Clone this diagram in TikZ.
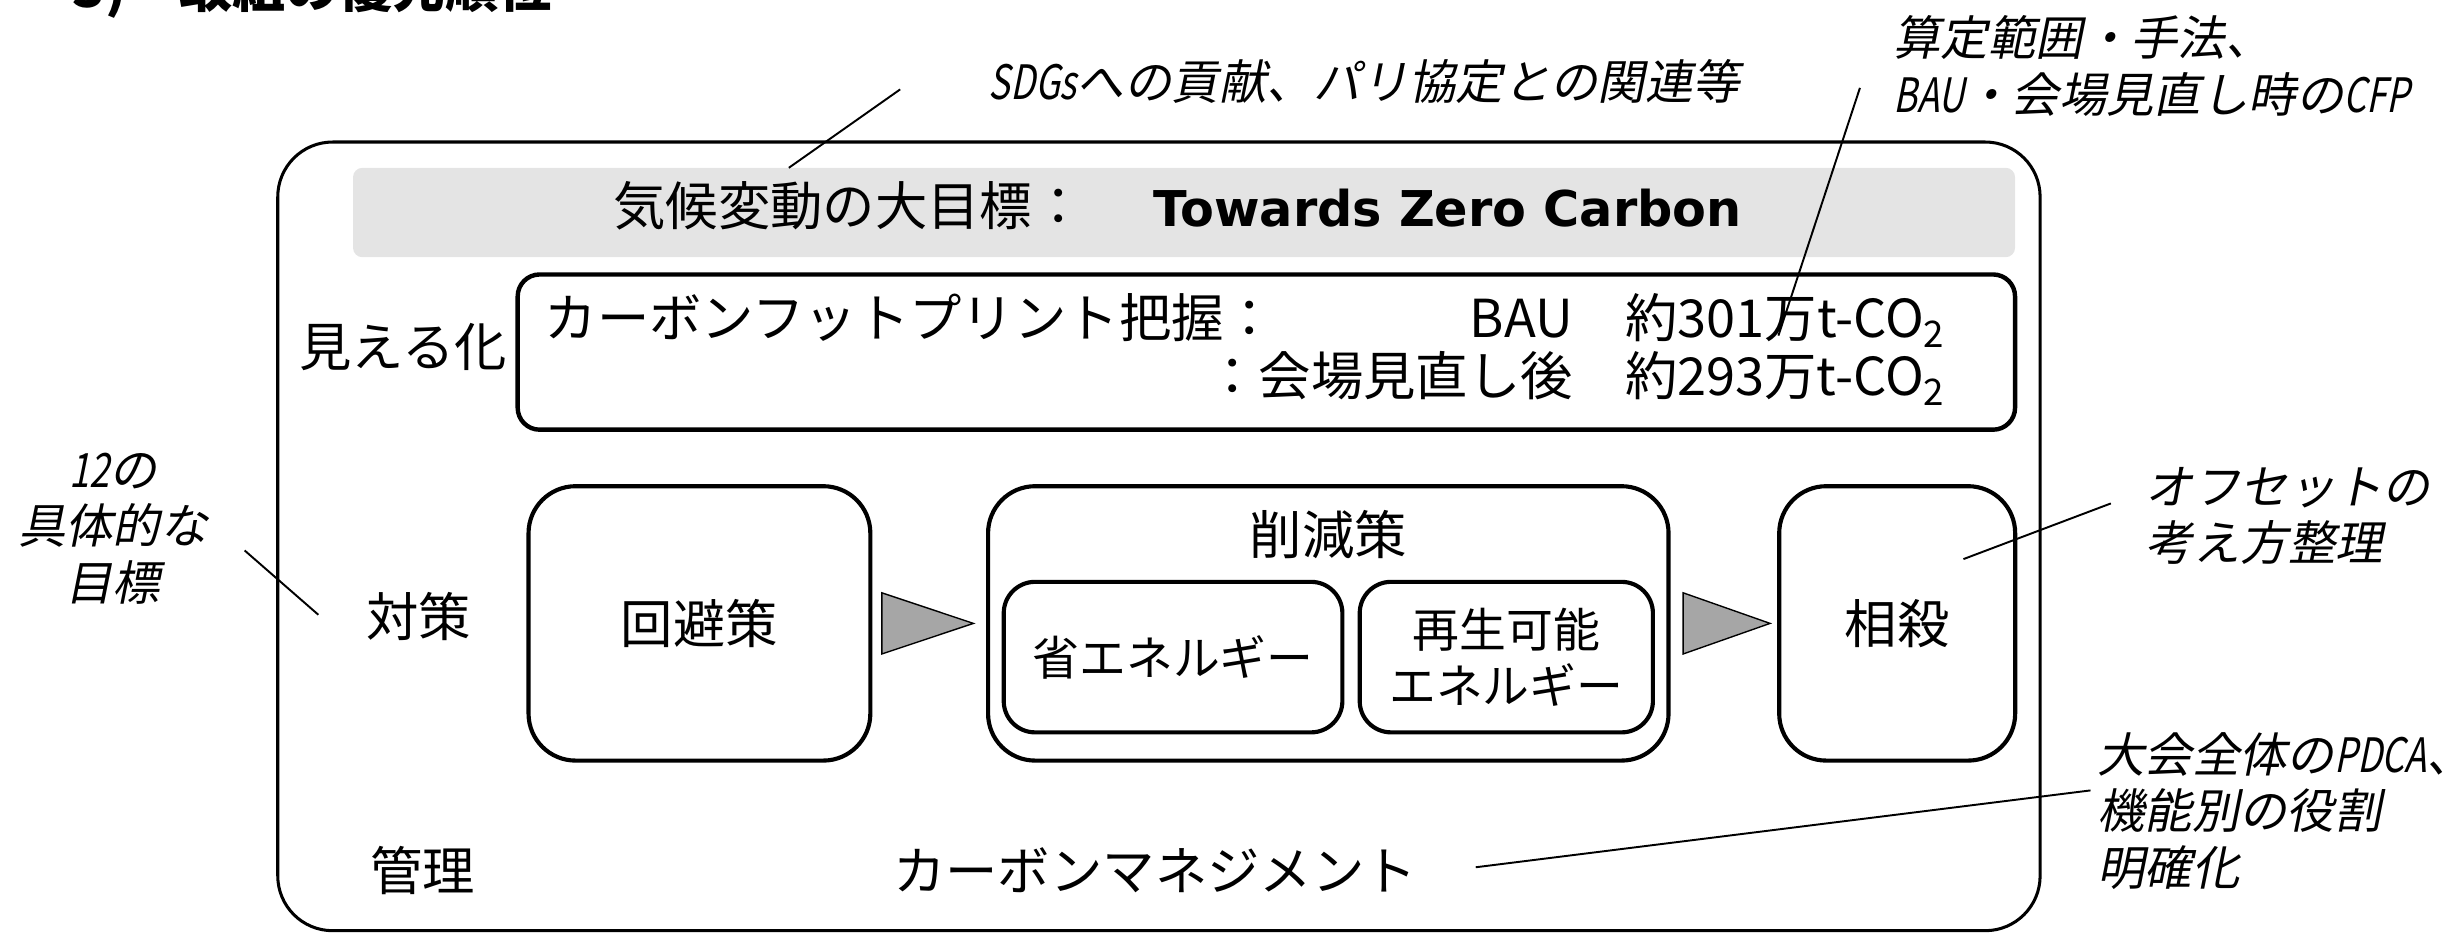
\documentclass[tikz,border=0pt]{standalone}
\usepackage{fontspec}
\setmainfont{Noto Sans CJK JP}
\newfontfamily\notefont[FakeSlant=0.2]{Noto Sans CJK JP}
\newfontfamily\notelatin[FakeSlant=0.2,FakeStretch=0.76]{Noto Sans CJK JP}
\newfontfamily\titlefont{DejaVu Sans}
\usetikzlibrary{calc}
\definecolor{bandgray}{RGB}{228,228,228}
\definecolor{arrowgray}{RGB}{166,166,166}

\begin{document}
\begin{tikzpicture}[x=0.02cm,y=-0.02cm,
		box/.style={draw,line width=1.5pt,rounded corners=0.6cm,inner sep=0pt,minimum height=3.5cm},
		subbox/.style={draw,line width=1.5pt,rounded corners=0.4cm,inner sep=0pt,minimum height=1.92cm,font=\fontsize{17}{20.4}\selectfont,align=center},
		lbl/.style={inner sep=0pt,font=\fontsize{19}{22}\selectfont},
		note/.style={inner sep=0pt,font=\notefont\fontsize{17.2}{20.5}\selectfont},
		lead/.style={line width=0.7pt},
		tri/.style={draw,line width=0.5pt,fill=arrowgray,line join=miter}]
		\useasboundingbox (0,0) rectangle (1568,596);
		\clip (0,0) rectangle (1568,596);
		\node[anchor=base west,inner sep=0pt,font=\bfseries\fontsize{19.3}{22}\selectfont] (heading) at (46,4.5) {3)　取組の優先順位};
		% frame and goal band
		\node[draw,line width=1.1pt,rounded corners=0.7cm,minimum width=22.48cm,minimum height=10.06cm] (frame) at (739,342) {};
		\node[fill=bandgray,rounded corners=0.12cm,minimum width=21.2cm,minimum height=1.14cm] (band) at (755,135.5) {};
		\node[lbl,anchor=east] (goal) at (692,131) {気候変動の大目標：};
		\node[inner sep=0pt,anchor=west,font=\titlefont\bfseries\fontsize{17.9}{20}\selectfont] (zero) at (735,133) {Towards Zero Carbon};
		% footprint
		\node[lbl] (visual) at (257,221) {見える化};
		\node[draw,line width=1.6pt,rounded corners=0.28cm,minimum width=19.1cm,minimum height=1.98cm] (cfp) at (807.5,224.5) {};
		\node[lbl,anchor=base west] (cfpname) at (347,215) {カーボンフットプリント把握：};
		\node[lbl,anchor=base east] (bau) at (1241,215) {BAU　約301万t-CO\textsubscript{2}};
		\node[lbl,anchor=base east] (review) at (1241,252) {：会場見直し後　約293万t-CO\textsubscript{2}};
		% measures
		\node[lbl] (measure) at (267,393) {対策};
		\node[box,lbl,minimum width=4.36cm] (avoid) at (446,397.5) {回避策};
		\node[box,minimum width=8.68cm] (reduce) at (847,397.5) {};
		\node[lbl] (reducettl) at (847,341) {削減策};
		\node[subbox,minimum width=4.32cm] (save) at (748,419) {省エネルギー};
		\node[subbox,minimum width=3.74cm] (renew) at (960.5,419) {再生可能\\エネルギー};
		\node[box,lbl,minimum width=3.01cm] (offset) at (1209.75,397.5) {相殺};
		\draw[tri] ($(avoid.east)+(6,-19.5)$) -- ($(reduce.west)+(-8,0)$) -- ($(avoid.east)+(6,19.5)$) -- cycle;
		\draw[tri] ($(reduce.east)+(8,-19.5)$) -- ($(offset.west)+(-4.5,0)$) -- ($(reduce.east)+(8,19.5)$) -- cycle;
		% management
		\node[lbl] (manage) at (269.5,555) {管理};
		\node[lbl] (cm) at (736.5,555) {カーボンマネジメント};
		% notes
		\node[note] (sdgs) at (870,52) {{\notelatin SDGs}への貢献、パリ協定との関連等};
		\node[note,anchor=west,align=left] (scopenote) at (1207,42) {算定範囲・手法、\\{\notelatin BAU}・会場見直し時の{\notelatin CFP}};
		\node[note,align=center] (goalsnote) at (72,337) {{\notelatin 12}の\\具体的な\\目標};
		\node[note,anchor=west,align=left] (offsetnote) at (1368,329) {オフセットの\\考え方整理};
		\node[note,anchor=west,align=left] (pdcanote) at (1337,517) {大会全体の{\notelatin PDCA}、\\機能別の役割\\明確化};
		\coordinate (sdgsA) at (574,57);
		\coordinate (sdgsB) at (503,107);
		\coordinate (scopeA) at (1186,56);
		\coordinate (scopeB) at (1134,214);
		\coordinate (goalsA) at (156,351);
		\coordinate (goalsB) at (203,392);
		\coordinate (offsetA) at (1346,321);
		\coordinate (offsetB) at (1252,356.5);
		\coordinate (pdcaA) at (1333,504);
		\coordinate (pdcaB) at (941,553);
		\draw[lead] (sdgsA) -- (sdgsB);
		\draw[lead] (scopeA) -- (scopeB);
		\draw[lead] (goalsA) -- (goalsB);
		\draw[lead] (offsetA) -- (offsetB);
		\draw[lead] (pdcaA) -- (pdcaB);
	\end{tikzpicture}
\end{document}
